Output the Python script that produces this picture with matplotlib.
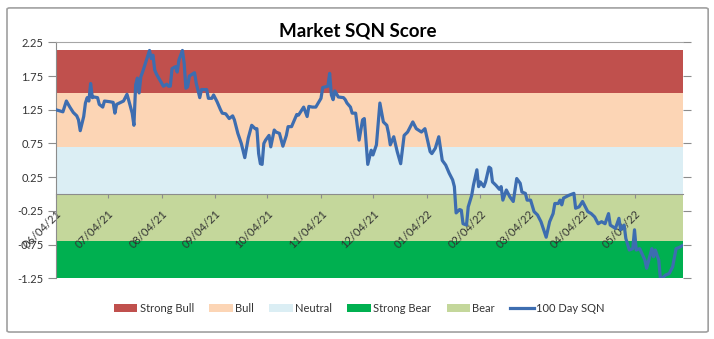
import numpy as np
import pandas as pd
import matplotlib
matplotlib.use('Agg')
import matplotlib.pyplot as plt
import matplotlib.dates as mdates
from matplotlib.patches import FancyBboxPatch

plt.rcParams['font.family'] = ['Lato', 'DejaVu Sans']

# 100 day SQN, days counted from the first date
start = pd.Timestamp('2021-06-04')
days = [0, 4, 6, 8, 10, 12, 13, 14, 16, 17, 18, 19, 20, 21, 22, 24, 25, 27, 28, 31,
        33, 34, 35, 39, 41, 42, 44, 45, 46, 47, 48, 49, 50, 53, 54, 55, 56, 57, 58, 60,
        62, 64, 65, 66, 67, 69, 70, 71, 73, 74, 75, 76, 77, 80, 81, 82, 83, 84, 87, 88,
        90, 91, 93, 95, 96, 98, 100, 102, 103, 105, 107, 109, 111, 113, 115, 116, 117, 118, 119, 120,
        121, 123, 124, 126, 127, 129, 131, 133, 134, 136, 138, 139, 140, 142, 143, 145, 146, 148, 150, 153,
        154, 157, 158, 159, 160, 161, 163, 166, 167, 168, 170, 171, 173, 175, 177, 178, 180, 182, 183, 185,
        187, 189, 191, 192, 193, 195, 197, 199, 201, 203, 206, 208, 211, 213, 216, 217, 219, 221, 223, 225,
        227, 229, 230, 231, 233, 234, 235, 237, 238, 240, 241, 243, 244, 245, 247, 248, 250, 251, 252, 254,
        256, 257, 258, 260, 262, 264, 266, 268, 269, 271, 272, 274, 276, 278, 280, 282, 283, 285, 287, 288,
        290, 291, 292, 293, 296, 299, 300, 302, 304, 307, 309, 311, 313, 315, 317, 319, 320, 323, 325, 326,
        328, 329, 331, 333, 334, 335, 337, 340, 341, 344, 345, 346, 348, 349, 352, 354, 356, 358, 360, 362]
sqn = [1.25, 1.22, 1.38, 1.29, 1.21, 1.16, 1.10, 0.94, 1.15, 1.35, 1.43, 1.38, 1.64, 1.43, 1.44, 1.43, 1.33, 1.29, 1.38, 1.37,
       1.36, 1.20, 1.33, 1.38, 1.48, 1.39, 1.20, 1.02, 1.62, 1.72, 1.50, 1.74, 1.81, 2.05, 2.13, 2.01, 2.06, 1.84, 1.78, 1.69,
       1.60, 1.63, 1.60, 1.60, 1.86, 1.89, 1.81, 1.99, 2.13, 1.94, 1.57, 1.59, 1.75, 1.80, 1.64, 1.54, 1.43, 1.55, 1.55, 1.42,
       1.42, 1.47, 1.37, 1.25, 1.20, 1.19, 1.12, 1.16, 1.10, 0.90, 0.75, 0.54, 0.83, 1.02, 0.97, 0.97, 0.60, 0.45, 0.44, 0.75,
       0.80, 0.87, 0.70, 0.95, 0.92, 0.90, 0.71, 0.87, 1.00, 1.00, 1.12, 1.18, 1.17, 1.25, 1.29, 1.15, 1.30, 1.29, 1.29, 1.42,
       1.58, 1.60, 1.79, 1.47, 1.40, 1.53, 1.44, 1.43, 1.40, 1.35, 1.29, 1.20, 1.20, 0.80, 1.10, 1.12, 0.44, 0.65, 0.58, 0.73,
       1.35, 1.07, 1.02, 0.90, 0.73, 0.85, 0.63, 0.45, 0.87, 0.92, 1.07, 0.97, 0.92, 0.97, 0.63, 0.60, 0.68, 0.85, 0.50, 0.43,
       0.31, 0.21, 0.11, -0.28, -0.23, -0.24, -0.44, -0.46, -0.19, -0.02, 0.13, 0.36, 0.11, 0.18, 0.11, 0.18, 0.40, 0.38, 0.18, 0.13,
       0.07, 0.11, -0.09, 0.06, -0.04, -0.11, 0.23, 0.16, 0.03, 0.01, -0.09, -0.09, -0.26, -0.31, -0.41, -0.56, -0.64, -0.41, -0.29, -0.14,
       -0.14, -0.09, -0.16, -0.06, -0.02, 0.01, -0.21, -0.19, -0.11, -0.26, -0.29, -0.34, -0.44, -0.41, -0.44, -0.29, -0.46, -0.51, -0.36, -0.53,
       -0.46, -0.66, -0.83, -0.81, -0.53, -0.83, -0.81, -0.98, -1.10, -0.81, -0.93, -0.83, -0.98, -1.27, -1.20, -1.18, -1.08, -0.81, -0.79, -0.76]

# SQN regime bands
band_names = ['Strong Bull', 'Bull', 'Neutral', 'Strong Bear', 'Bear']
band_lo = [1.5, 0.7, 0.0, -1.25, -0.7]
band_hi = [2.13, 1.5, 0.7, -0.7, 0.0]
band_colors = ['#C0504D', '#FCD5B5', '#DBEEF4', '#00B050', '#C4D79B']

yticks = [-1.25, -0.75, -0.25, 0.25, 0.75, 1.25, 1.75, 2.25]

dates = start + pd.to_timedelta(days, unit='D')

fig = plt.figure(figsize=(7.14, 3.39), dpi=100)
ax = fig.add_axes([0.0784, 0.179, 0.8782, 0.696])

for name, lo, hi, col in zip(band_names, band_lo, band_hi, band_colors):
    ax.axhspan(lo, hi, color=col, label=name, lw=0, zorder=1)

ax.plot(dates, sqn, color='#3D6DB0', lw=2.3, label='100 Day SQN', zorder=3,
        solid_joinstyle='round')

ax.set_ylim(-1.25, 2.25)
ax.set_xlim(dates[0], dates[-1])
ax.set_yticks(yticks)
ax.set_yticklabels(['%.2f' % v for v in yticks])

ax.xaxis.set_major_locator(mdates.MonthLocator(bymonthday=4))
ax.xaxis.set_major_formatter(mdates.DateFormatter('%m/%d/%y'))

ax.spines['bottom'].set_position(('data', 0))
ax.spines['bottom'].set_color('#8C8C8C')
ax.spines['bottom'].set_zorder(2)
ax.spines['left'].set_color('#8C8C8C')
ax.spines['top'].set_color('#A6A6A6')
ax.spines['right'].set_visible(False)

ax.tick_params(axis='y', direction='out', length=6, width=0.8, color='#8C8C8C',
               labelsize=8, labelcolor='#333333', pad=3, right=True)
ax.tick_params(axis='x', direction='out', length=3, width=0.8, color='#8C8C8C',
               labelsize=8, labelcolor='#333333', pad=7)
for lab in ax.get_xticklabels():
    lab.set_rotation(45)
    lab.set_ha('right')
    lab.set_va('top')
    lab.set_rotation_mode('anchor')

fig.text(0.501, 0.909, 'Market SQN Score', ha='center', va='center',
         fontsize=13.5, fontweight='bold', color='black')

fig.legend(*ax.get_legend_handles_labels(), loc='center', bbox_to_anchor=(0.503, 0.091),
           ncol=6, frameon=False, fontsize=8, handlelength=2.1, handletextpad=0.2,
           columnspacing=1.4, labelcolor='#333333')

border = FancyBboxPatch((0.0098, 0.0206), 0.982, 0.956, boxstyle='round,pad=0,rounding_size=0.004',
                        transform=fig.transFigure, fill=False, ec='#A0A0A0', lw=1.2)
fig.patches.append(border)

fig.savefig('out.png', dpi=100)
